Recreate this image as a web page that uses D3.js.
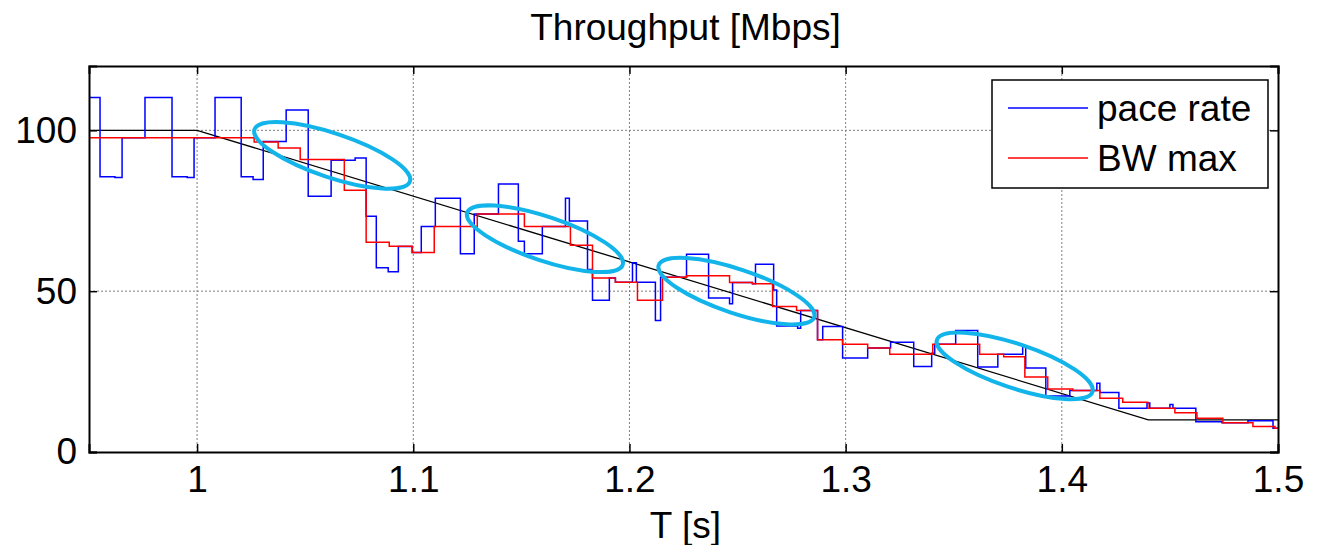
<!DOCTYPE html>
<html>
<head>
<meta charset="utf-8">
<script src="https://d3js.org/d3.v7.min.js"></script>
<style>
  body { margin: 0; background: #fff; }
  text { font-family: "Liberation Sans", Arial, sans-serif; }
</style>
</head>
<body>
<div id="chart"></div>
<script>
// pace rate (blue), step values: time [s] / rate [Mbps]
var paceT = [0.95,0.9551,0.9620,0.9653,0.9759,0.9884,0.9954,0.9986,1.0083,1.0204,1.0259,1.0306,1.0412,1.0514,1.0620,1.0731,1.0782,1.0829,1.0884,1.0931,1.0995,1.1037,1.1102,1.1218,1.1282,1.1394,1.1486,1.1514,1.1597,1.1704,1.1722,1.1806,1.1829,1.1907,1.1935,1.2014,1.2032,1.2120,1.2144,1.2264,1.2366,1.2463,1.2477,1.2569,1.2583,1.2667,1.2681,1.2778,1.2792,1.2870,1.2894,1.2986,1.3102,1.3208,1.3315,1.3398,1.3412,1.3509,1.3611,1.3704,1.3819,1.3833,1.3926,1.4037,1.4162,1.4176,1.4264,1.4394,1.4407,1.4500,1.4514,1.4620,1.4741,1.4861,1.4977,1.5];
var paceV = [110.2,85.6,85.3,97.7,110.2,85.6,85.3,97.7,110.2,85.6,84.7,96.5,106.3,79.5,90.7,91.4,73.3,57.3,56.0,63.9,62.0,70.1,78.9,61.6,74.0,83.3,65.5,61.6,70.1,78.9,71.8,56.7,47.2,54.1,52.8,58.8,52.8,40.9,54.3,61.5,47.9,46.1,52.7,52.3,58.4,50.4,39.2,38.5,44.0,34.9,39.0,29.2,32.3,34.1,26.6,30.7,33.5,37.8,26.4,30.4,33.0,26.1,17.4,19.1,21.4,18.5,13.6,15.2,13.6,14.8,13.6,9.4,9.1,9.7,7.4,7.4];

// BW max (red)
var bwT = [0.95,1.0264,1.0375,1.0477,1.0681,1.0782,1.0889,1.0995,1.1097,1.1296,1.1514,1.1727,1.1829,1.1935,1.2037,1.2153,1.2264,1.2463,1.2569,1.2662,1.2773,1.2870,1.2986,1.3102,1.3204,1.3403,1.3620,1.3731,1.3829,1.3935,1.4051,1.4176,1.4282,1.4398,1.4523,1.4625,1.4745,1.4884,1.4986,1.5];
var bwV = [97.7,96.4,94.5,90.9,81.4,65.2,64.0,62.0,70.1,74.0,70.1,64.3,54.1,52.8,47.2,54.3,54.8,52.7,52.3,45.2,44.0,34.9,33.5,32.3,30.4,33.5,30.4,29.6,23.3,19.6,19.1,16.7,15.5,13.6,12.2,10.5,9.1,7.9,7.4,7.4];

// reference bandwidth (black)
var refT = [0.95, 1.0, 1.44, 1.5];
var refV = [100, 100, 10, 10];

// highlighted regions (cyan ellipses), centres
var ellT = [1.0625, 1.1609, 1.2495, 1.3782];
var ellV = [92.2, 66.3, 50.0, 26.8];

var xTicks = [1, 1.1, 1.2, 1.3, 1.4, 1.5];
var yTicks = [0, 50, 100];
var seriesNames = ["pace rate", "BW max"];
var seriesColors = ["#0000ff", "#ff0000"];

var W = 1329, H = 545;
var margin = {top: 66, right: 51, bottom: 93, left: 89},
    width = W - margin.left - margin.right,
    height = H - margin.top - margin.bottom;

var svg = d3.select("#chart")
  .append("svg")
    .attr("width", W)
    .attr("height", H)
  .append("g")
    .attr("transform", "translate(" + margin.left + "," + margin.top + ")");

var x = d3.scaleLinear().domain([0.95, 1.5]).range([0, width]);
var y = d3.scaleLinear().domain([0, 120]).range([height, 0]);

// grid
svg.append("g")
  .selectAll("line")
  .data(xTicks.filter(function (d) { return d < 1.5; }))
  .enter().append("line")
    .attr("x1", function (d) { return x(d); })
    .attr("x2", function (d) { return x(d); })
    .attr("y1", 0).attr("y2", height)
    .style("stroke", "#7f7f7f").style("stroke-width", 1)
    .style("stroke-dasharray", "2,2");
svg.append("g")
  .selectAll("line")
  .data(yTicks.filter(function (d) { return d > 0; }))
  .enter().append("line")
    .attr("x1", 0).attr("x2", width)
    .attr("y1", function (d) { return y(d); })
    .attr("y2", function (d) { return y(d); })
    .style("stroke", "#7f7f7f").style("stroke-width", 1)
    .style("stroke-dasharray", "2,2");

var line = d3.line()
  .x(function (d) { return x(d[0]); })
  .y(function (d) { return y(d[1]); });

// reference
svg.append("path")
  .datum(d3.zip(refT, refV))
  .attr("d", line)
  .style("fill", "none").style("stroke", "#000").style("stroke-width", 1.3);

var stepLine = d3.line()
  .curve(d3.curveStepAfter)
  .x(function (d) { return x(d[0]); })
  .y(function (d) { return y(d[1]); });

svg.append("path")
  .datum(d3.zip(paceT, paceV))
  .attr("d", stepLine)
  .style("fill", "none").style("stroke", seriesColors[0]).style("stroke-width", 1.5);

svg.append("path")
  .datum(d3.zip(bwT, bwV))
  .attr("d", stepLine)
  .style("fill", "none").style("stroke", seriesColors[1]).style("stroke-width", 1.5);

// ellipses
svg.append("g")
  .selectAll("ellipse")
  .data(d3.zip(ellT, ellV))
  .enter().append("ellipse")
    .attr("transform", function (d) {
      return "translate(" + x(d[0]) + "," + y(d[1]) + ") rotate(18.5)";
    })
    .attr("rx", 82).attr("ry", 22)
    .style("fill", "none").style("stroke", "#12b4ea").style("stroke-width", 4);

// axes box
var xAxisB = d3.axisBottom(x).tickValues(xTicks).tickSize(-8).tickPadding(14)
  .tickFormat(function (d) { return d === 1 ? "1" : d3.format(".1f")(d); });
var xAxisT = d3.axisTop(x).tickValues(xTicks).tickSize(-8).tickFormat("");
var yAxisL = d3.axisLeft(y).tickValues(yTicks).tickSize(-8).tickPadding(12);
var yAxisR = d3.axisRight(y).tickValues(yTicks).tickSize(-8).tickFormat("");

function styleAxis(g) {
  g.select(".domain").style("stroke", "#000").style("stroke-width", 2);
  g.selectAll(".tick line").style("stroke", "#000").style("stroke-width", 1.5);
  g.selectAll("text").style("font-size", "37px").style("fill", "#000")
    .style("font-family", "'Liberation Sans', Arial, sans-serif");
}

svg.append("g").attr("transform", "translate(0," + height + ")").call(xAxisB).call(styleAxis);
svg.append("g").call(xAxisT).call(styleAxis);
svg.append("g").call(yAxisL).call(styleAxis);
svg.append("g").attr("transform", "translate(" + width + ",0)").call(yAxisR).call(styleAxis);

// title and label
svg.append("text")
  .attr("x", width / 2 + 2).attr("y", -26)
  .attr("text-anchor", "middle")
  .style("font-size", "37px")
  .text("Throughput [Mbps]");
svg.append("text")
  .attr("x", width / 2 + 2).attr("y", height + 86)
  .attr("text-anchor", "middle")
  .style("font-size", "37px")
  .text("T [s]");

// legend
var lg = svg.append("g").attr("transform", "translate(" + (992 - margin.left) + "," + (80 - margin.top) + ")");
lg.append("rect")
  .attr("width", 276).attr("height", 108)
  .style("fill", "#fff").style("stroke", "#000").style("stroke-width", 1.5);
seriesNames.forEach(function (name, i) {
  var yy = 28 + i * 50;
  lg.append("line")
    .attr("x1", 16).attr("x2", 96).attr("y1", yy).attr("y2", yy)
    .style("stroke", seriesColors[i]).style("stroke-width", 1.5);
  lg.append("text")
    .attr("x", 105).attr("y", yy + 13)
    .style("font-size", "37px")
    .text(name);
});
</script>
</body>
</html>
